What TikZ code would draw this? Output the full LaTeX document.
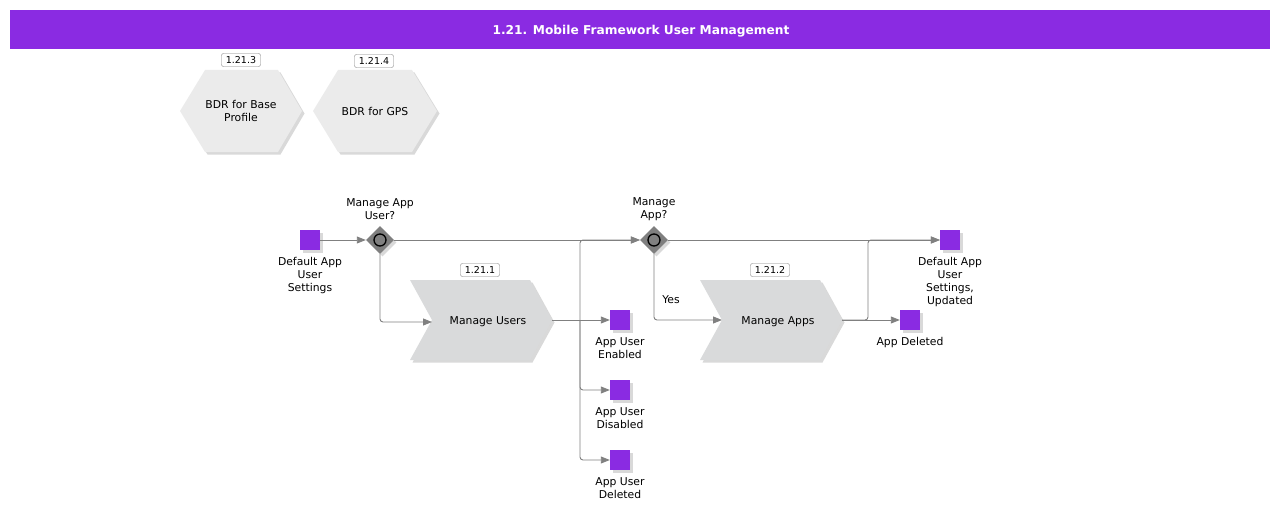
\documentclass[tikz,border=0pt]{standalone}
\usepackage{fontspec}
\setmainfont{DejaVu Sans}
\usetikzlibrary{shadows,arrows.meta,shapes.geometric}
\definecolor{pur}{HTML}{8A2BE2}
\definecolor{ln}{HTML}{808080}
\definecolor{chev}{HTML}{D9DADB}
\definecolor{hexc}{HTML}{EBEBEB}
\definecolor{gw}{HTML}{7F7F7F}
\begin{document}
\begin{tikzpicture}[x=1pt,y=-1pt,font=\fontsize{10.8}{13}\selectfont,
  shd/.style={drop shadow={shadow xshift=2.5pt,shadow yshift=-2.5pt,opacity=0.25,fill=black!60}},
  conn/.style={draw=ln,line width=0.9pt,rounded corners=3pt},
  arr/.style={conn,-{Triangle[length=9pt,width=7pt]}},
  ev/.style={fill=pur,minimum size=20pt,inner sep=0pt,shd},
  lbl/.style={align=center,inner sep=0pt,yshift=-1.5pt},
  idbox/.style={draw=ln,fill=white,rounded corners=2pt,font=\fontsize{9.5}{11}\selectfont,inner sep=1.5pt,minimum width=39pt,minimum height=13pt},
  gate/.style={diamond,fill=gw,minimum width=28pt,minimum height=28pt,inner sep=0pt,shd},
  chevron/.style={fill=chev,shd},
  hexa/.style={fill=hexc,shd}
]
\useasboundingbox (0,0) rectangle (1280,511);
% title
\fill[pur] (10,10) rectangle (1270,49);
\node[text=white,font=\bfseries\fontsize{12.2}{14}\selectfont] (title) at (641,31) {1.21. Mobile Framework User Management};
% hexagons
\path[hexa] (180,111) -- (205,70) -- (278,70) -- (302,111) -- (278,152) -- (205,152) -- cycle;
\node[lbl,yshift=1.5pt] (h1) at (241,111) {BDR for Base\\Profile};
\node[idbox] (h1id) at (241,60) {1.21.3};
\path[hexa] (313,111) -- (338,70) -- (412,70) -- (437,111) -- (412,152) -- (338,152) -- cycle;
\node[lbl,yshift=1pt] (h2) at (375,111) {BDR for GPS};
\node[idbox] (h2id) at (374,61) {1.21.4};
% chevrons
\path[chevron] (410,280) -- (530,280) -- (552,320) -- (530,360) -- (410,360) -- (432,320) -- cycle;
\node[lbl] (mu) at (488,320) {Manage Users};
\node[idbox] (muid) at (480,270) {1.21.1};
\coordinate (muin) at (432,322);
\coordinate (muout) at (552,320);
\path[chevron] (700,280) -- (820,280) -- (842,320) -- (820,360) -- (700,360) -- (722,320) -- cycle;
\node[lbl] (ma) at (778,320) {Manage Apps};
\node[idbox] (maid) at (770,270) {1.21.2};
\coordinate (main) at (722,320);
\coordinate (maout) at (842,320);
% gateways
\node[gate] (g1) at (380,240) {};
\draw[line width=1.3pt,fill=ln] (g1.center) circle[radius=6];
\node[lbl] (g1l) at (380,208) {Manage App\\User?};
\node[gate] (g2) at (654,240) {};
\draw[line width=1.3pt,fill=ln] (g2.center) circle[radius=6];
\node[lbl] (g2l) at (654,208) {Manage\\App?};
% events
\node[ev] (s1) at (310,240) {};
\node[lbl] (s1l) at (310,274) {Default App\\User\\Settings};
\node[ev] (e1) at (620,320) {};
\node[lbl] (e1l) at (620,347) {App User\\Enabled};
\node[ev] (e2) at (620,390) {};
\node[lbl] (e2l) at (620,417) {App User\\Disabled};
\node[ev] (e3) at (620,460) {};
\node[lbl] (e3l) at (620,487) {App User\\Deleted};
\node[ev] (e4) at (910,320) {};
\node[lbl] (e4l) at (910,341) {App Deleted};
\node[ev] (e5) at (950,240) {};
\node[lbl] (e5l) at (950,281) {Default App\\User\\Settings,\\Updated};
% connectors
\coordinate (j1) at (580,320);
\draw[arr] (s1) -- (g1);
\draw[arr] (g1) -- (g2);
\draw[arr] (g1.south) |- (muin);
\draw[arr] (muout) -- (e1);
\draw[arr] (j1) |- (g2.west);
\draw[arr] (j1) |- (e2);
\draw[arr] (j1) |- (e3);
\draw[arr] (g2) -- (e5);
\draw[arr] (g2.south) |- (main);
\node[lbl] (yes) at (671,298) {Yes};
\draw[arr] (maout) -- (e4);
\draw[arr] (maout) -- (868,320) |- (e5);
\end{tikzpicture}
\end{document}
